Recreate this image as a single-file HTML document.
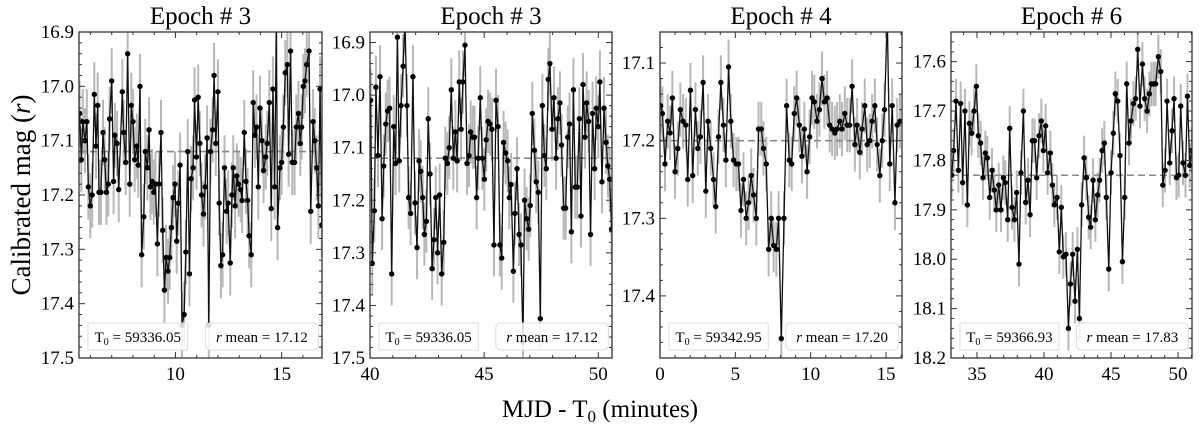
<!DOCTYPE html>
<html><head><meta charset="utf-8">
<style>
html,body{margin:0;padding:0;background:#fff;}
svg, svg text{font-family:"Liberation Serif","DejaVu Serif",serif;}
</style></head>
<body>
<svg id="chart" width="1200" height="429" viewBox="0 0 1200 429" xmlns="http://www.w3.org/2000/svg" font-family="'Liberation Serif','DejaVu Serif',serif">
<text transform="translate(30,195) rotate(-90)" text-anchor="middle" font-size="27">Calibrated mag (<tspan font-style="italic">r</tspan>)</text>
<text x="600" y="417" text-anchor="middle" font-size="25">MJD - T<tspan font-size="17" dy="5">0</tspan><tspan dy="-5"> (minutes)</tspan></text>
</svg>
<script>
const t1=[5.49,5.57,5.64,5.74,5.83,5.90,5.99,6.08,6.18,6.26,6.34,6.40,6.49,6.59,6.67,6.75,6.84,6.90,7.00,7.09,7.15,7.25,7.33,7.50,7.56,7.66,7.75,7.85,7.92,8.00,8.08,8.18,8.25,8.33,8.41,8.51,8.58,8.68,8.76,8.82,8.90,8.98,9.06,9.15,9.23,9.32,9.40,9.48,9.56,9.65,9.73,9.81,9.89,9.98,10.06,10.14,10.22,10.31,10.41,10.49,10.58,10.66,10.74,10.83,10.90,10.99,11.07,11.15,11.23,11.32,11.40,11.49,11.57,11.65,11.75,11.82,11.90,12.00,12.06,12.14,12.22,12.31,12.41,12.48,12.58,12.66,12.72,12.81,12.89,12.97,13.07,13.14,13.24,13.32,13.40,13.47,13.57,13.66,13.74,13.82,13.90,13.98,14.07,14.15,14.25,14.32,14.42,14.51,14.59,14.67,14.75,14.81,14.92,15.00,15.08,15.17,15.27,15.33,15.42,15.50,15.61,15.69,15.79,15.88,15.94,16.02,16.10,16.18,16.29,16.37,16.48,16.56,16.65,16.73,16.81,16.89];
const m1=[17.05,17.135,17.065,17.10,17.065,17.185,17.22,17.20,17.015,17.11,17.035,17.195,17.195,17.085,17.135,17.195,17.18,17.06,16.99,17.175,17.09,17.105,17.19,17.01,17.085,17.14,16.94,17.18,17.035,17.065,17.135,17.11,17.145,17.0,17.31,17.24,17.12,17.15,17.08,17.185,17.175,17.195,17.18,17.29,17.18,17.085,17.265,17.375,17.315,17.34,17.315,17.26,17.205,17.18,17.285,17.215,17.145,17.44,17.42,17.305,17.12,17.345,17.17,17.15,17.025,17.13,17.02,17.105,17.20,17.235,17.185,17.095,17.44,17.12,17.08,16.98,17.105,17.01,17.215,17.33,17.31,17.15,17.23,17.215,17.325,17.20,17.15,17.22,17.165,17.18,17.19,17.21,17.085,17.175,17.21,17.275,17.31,17.03,17.09,17.075,17.185,17.04,17.10,17.155,17.13,17.105,17.03,17.225,17.005,17.185,16.88,17.26,17.15,17.14,17.075,16.975,16.96,17.125,16.935,17.14,17.14,17.075,17.05,17.105,17.075,17.00,16.99,16.96,16.935,17.23,17.065,17.10,17.15,17.22,17.005,17.255];
const t2=[40.03,40.10,40.19,40.26,40.35,40.44,40.53,40.60,40.69,40.77,40.86,40.95,41.04,41.12,41.20,41.28,41.36,41.45,41.53,41.62,41.69,41.78,41.88,41.97,42.06,42.15,42.22,42.31,42.38,42.47,42.55,42.63,42.72,42.80,42.88,42.96,43.05,43.14,43.23,43.30,43.39,43.47,43.56,43.65,43.74,43.82,43.91,43.99,44.07,44.16,44.25,44.34,44.41,44.50,44.58,44.67,44.74,44.83,44.92,45.01,45.09,45.17,45.26,45.34,45.43,45.52,45.61,45.69,45.77,45.85,45.94,46.03,46.10,46.18,46.28,46.35,46.44,46.53,46.61,46.70,46.77,46.86,46.95,47.02,47.11,47.20,47.28,47.37,47.46,47.55,47.64,47.72,47.81,47.88,47.97,48.06,48.15,48.23,48.32,48.39,48.48,48.57,48.66,48.74,48.82,48.91,48.99,49.08,49.17,49.24,49.33,49.42,49.49,49.58,49.66,49.75,49.84,49.91,50.00,50.07,50.16,50.25,50.34,50.42,50.50,50.58];
const m2=[17.01,17.32,17.22,16.985,17.115,16.965,17.235,17.135,17.055,17.03,17.025,17.34,17.06,17.13,16.89,17.125,17.02,16.945,16.86,17.02,17.195,17.225,16.965,17.205,17.29,17.125,17.145,17.195,17.265,17.24,17.045,17.15,17.33,17.275,17.195,17.3,17.19,17.34,17.28,17.12,17.13,17.10,16.99,17.12,17.07,17.125,16.975,17.065,16.975,16.905,17.13,17.115,17.07,17.08,17.08,17.195,17.12,17.005,17.12,17.16,17.085,17.05,17.055,17.065,17.285,17.01,17.06,17.285,17.31,17.09,17.11,17.125,17.195,17.17,17.335,17.225,17.14,17.265,17.285,17.47,17.20,17.235,17.255,17.21,17.035,17.105,17.165,17.185,17.425,17.02,17.115,17.14,16.97,16.94,17.065,17.005,17.12,17.045,17.015,17.095,17.215,17.215,17.08,17.055,17.26,16.99,17.175,17.175,17.045,17.23,16.98,17.08,17.015,17.05,17.265,17.035,17.14,17.025,17.06,16.975,17.165,17.025,17.09,17.135,17.16,17.255];
const t3=[0.04,0.16,0.33,0.51,0.67,0.82,1.00,1.18,1.35,1.53,1.71,1.84,2.02,2.17,2.35,2.51,2.68,2.86,3.04,3.19,3.37,3.55,3.70,3.88,4.04,4.21,4.37,4.55,4.70,4.88,5.06,5.21,5.37,5.54,5.72,5.88,6.05,6.21,6.39,6.54,6.72,6.87,7.05,7.21,7.38,7.54,7.72,7.87,8.05,8.23,8.40,8.58,8.74,8.91,9.07,9.25,9.42,9.58,9.76,9.93,10.09,10.24,10.42,10.58,10.75,10.91,11.09,11.26,11.42,11.60,11.75,11.93,12.08,12.26,12.42,12.59,12.75,12.93,13.08,13.26,13.41,13.59,13.75,13.92,14.08,14.26,14.41,14.59,14.75,14.90,15.08,15.25,15.41,15.59,15.74,15.92];
const m3=[17.155,17.165,17.23,17.175,17.19,17.145,17.24,17.21,17.16,17.175,17.18,17.25,17.135,17.245,17.16,17.21,17.195,17.125,17.265,17.175,17.21,17.25,17.285,17.195,17.125,17.18,17.225,17.105,17.175,17.225,17.23,17.23,17.29,17.25,17.30,17.28,17.245,17.27,17.30,17.185,17.185,17.21,17.23,17.34,17.30,17.335,17.34,17.30,17.455,17.30,17.155,17.225,17.23,17.165,17.145,17.18,17.22,17.185,17.24,17.195,17.145,17.15,17.175,17.16,17.12,17.15,17.145,17.18,17.185,17.19,17.185,17.175,17.185,17.165,17.18,17.18,17.13,17.205,17.18,17.215,17.185,17.155,17.205,17.2,17.175,17.155,17.205,17.245,17.2,17.16,17.04,17.23,17.155,17.28,17.18,17.175];
const t4=[33.11,33.26,33.43,33.61,33.78,33.93,34.10,34.28,34.43,34.60,34.78,34.95,35.10,35.27,35.45,35.62,35.77,35.95,36.12,36.29,36.44,36.62,36.79,36.97,37.11,37.29,37.44,37.61,37.79,37.96,38.13,38.28,38.46,38.63,38.81,38.96,39.13,39.30,39.45,39.63,39.80,39.95,40.12,40.27,40.47,40.62,40.77,40.97,41.14,41.29,41.44,41.64,41.82,41.97,42.14,42.31,42.49,42.64,42.81,42.99,43.16,43.33,43.48,43.66,43.83,44.00,44.15,44.33,44.50,44.65,44.83,45.00,45.17,45.32,45.50,45.67,45.85,46.02,46.17,46.34,46.49,46.67,46.84,46.99,47.16,47.34,47.51,47.69,47.86,48.01,48.18,48.33,48.53,48.71,48.86,49.03,49.18,49.38,49.55,49.70,49.88,50.05,50.20,50.37,50.55,50.70,50.87,51.02];
const m4=[17.83,17.78,17.68,17.82,17.685,17.845,17.70,17.89,17.725,17.745,17.70,17.65,17.75,17.765,17.835,17.785,17.795,17.875,17.82,17.86,17.90,17.85,17.90,17.835,17.845,17.92,17.735,17.895,17.92,17.865,18.01,17.825,17.70,17.885,17.84,17.91,17.76,17.76,17.835,17.75,17.72,17.78,17.73,17.825,17.785,17.85,17.89,17.875,17.985,17.895,17.995,17.99,18.14,18.05,17.99,18.085,17.98,18.12,17.89,17.795,17.835,17.915,17.935,17.84,17.92,17.87,17.84,17.78,17.765,17.875,18.02,17.825,17.745,17.665,17.68,17.79,18.005,17.875,17.645,17.765,17.72,17.685,17.675,17.575,17.69,17.605,17.675,17.70,17.665,17.645,17.645,17.645,17.59,17.62,17.85,17.82,17.68,17.805,17.74,17.675,17.835,17.83,17.69,17.805,17.83,17.67,17.81,17.78];
const titles=["Epoch # 3","Epoch # 3","Epoch # 4","Epoch # 6"];
const t0Labels=["59336.05","59336.05","59342.95","59366.93"];
const meanMags=[17.12,17.12,17.20,17.83];
const errSizes=[0.06,0.06,0.035,0.045];
const xTicks=[[10,15],[40,45,50],[0,5,10,15],[35,40,45,50]];
const yTicks=[[16.9,17.0,17.1,17.2,17.3,17.4,17.5],[16.9,17.0,17.1,17.2,17.3,17.4,17.5],[17.1,17.2,17.3,17.4],[17.6,17.7,17.8,17.9,18.0,18.1,18.2]];

const NS="http://www.w3.org/2000/svg";
const svg=document.getElementById('chart');
function mk(tag,attrs,parent){const e=document.createElementNS(NS,tag);for(const k in attrs)e.setAttribute(k,attrs[k]);(parent||svg).appendChild(e);return e;}
const panels=[
 {l:79,r:322,xd:[5.46,16.9],yd:[16.9,17.5],t:t1,m:m1},
 {l:370,r:612,xd:[40,50.6],yd:[16.88,17.5],t:t2,m:m2},
 {l:660,r:902,xd:[0,16.06],yd:[17.06,17.48],t:t3,m:m3},
 {l:951,r:1192,xd:[33.06,51.04],yd:[17.54,18.2],t:t4,m:m4}];
const TOP=32,BOT=358;
panels.forEach((p,i)=>{
 const g=mk('g',{});
 
 
 const X=v=>p.l+(v-p.xd[0])/(p.xd[1]-p.xd[0])*(p.r-p.l);
 const Y=v=>TOP+(v-p.yd[0])/(p.yd[1]-p.yd[0])*(BOT-TOP);
 const cid='clip'+i;
 const cp=mk('clipPath',{id:cid},g);mk('rect',{x:p.l,y:TOP,width:p.r-p.l,height:BOT-TOP},cp);
 const data=mk('g',{'clip-path':'url(#'+cid+')'},g);
 const eb=mk('g',{stroke:'#b8b8b8','stroke-width':2},data);
 
 
 p.t.forEach((t,j)=>{mk('line',{x1:X(t),x2:X(t),y1:Y(p.m[j]-errSizes[i]),y2:Y(p.m[j]+errSizes[i])},eb);});
 const ml=mk('line',{x1:p.l,x2:p.r,y1:Y(meanMags[i]),y2:Y(meanMags[i]),stroke:'#888','stroke-width':1.6,'stroke-dasharray':'7,4'},data);
 
 
 const pl=mk('polyline',{points:p.t.map((t,j)=>X(t)+','+Y(p.m[j])).join(' '),fill:'none',stroke:'#111','stroke-width':1.3},data);
 
 
 p.t.forEach((t,j)=>{const c=mk('circle',{cx:X(t),cy:Y(p.m[j]),r:2.7,fill:'#000'},data);
  
  });
 const tk=mk('g',{stroke:'#333','stroke-width':1},g);
 for(let v=Math.ceil(p.xd[0]);v<=p.xd[1];v++){const x=X(v);const major=xTicks[i].includes(v);const L=major?6:3;
  mk('line',{x1:x,x2:x,y1:BOT,y2:BOT-L},tk);mk('line',{x1:x,x2:x,y1:TOP,y2:TOP+L},tk);}
 for(let k=Math.ceil(p.yd[0]*50-1e-6);k<=p.yd[1]*50+1e-6;k++){const v=k/50;const y=Y(v);const major=(k%5===0);const L=major?6:3;
  mk('line',{x1:p.l,x2:p.l+L,y1:y,y2:y},tk);mk('line',{x1:p.r,x2:p.r-L,y1:y,y2:y},tk);}
 xTicks[i].forEach(v=>{const tx=mk('text',{x:X(v),y:BOT+22,'text-anchor':'middle','font-size':19},g);tx.textContent=v;
  
  });
 yTicks[i].forEach(v=>{const tx=mk('text',{x:p.l-5,y:Y(v)+6,'text-anchor':'end','font-size':19},g);tx.textContent=v.toFixed(1);
  
  });
 const fr=mk('rect',{x:p.l,y:TOP,width:p.r-p.l,height:BOT-TOP,fill:'none',stroke:'#333','stroke-width':1.3},g);
 
 
 const ti=mk('text',{x:(p.l+p.r)/2,y:24,'text-anchor':'middle','font-size':25},g);ti.textContent=titles[i];
 
 
 const w=p.r-p.l;
 const b1=mk('rect',{x:p.l+9,y:323,width:w*0.41,height:27,fill:'rgba(255,255,255,0.85)',stroke:'#ddd','stroke-width':1},g);
 
 
 const l1=mk('text',{x:p.l+9+w*0.205,y:342,'text-anchor':'middle','font-size':15},g);
 l1.innerHTML='T<tspan font-size="10" dy="3">0</tspan><tspan dy="-3"> = '+t0Labels[i]+'</tspan>';
 
 
 const b2=mk('rect',{x:p.l+w*0.52,y:323,width:w*0.465,height:27,rx:5,fill:'rgba(255,255,255,0.85)',stroke:'#ddd','stroke-width':1},g);
 
 
 const l2=mk('text',{x:p.l+w*0.7525,y:342,'text-anchor':'middle','font-size':15},g);
 l2.innerHTML='<tspan font-style="italic">r</tspan> mean = '+meanMags[i].toFixed(2);
 
 
});
</script>
</body></html>
